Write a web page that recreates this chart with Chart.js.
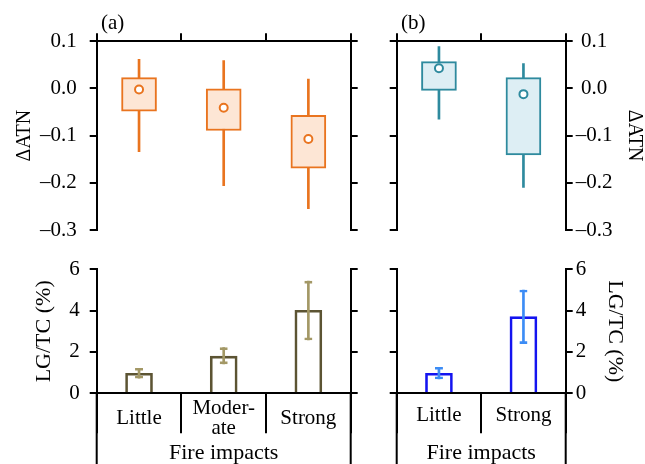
<!DOCTYPE html>
<html>
<head>
<meta charset="utf-8">
<script src="https://cdn.jsdelivr.net/npm/chart.js@4.4.0/dist/chart.umd.min.js"></script>
<style>
  body { margin: 0; background: #fff; }
  #wrap { position: relative; width: 645px; height: 464px; overflow: hidden; }
  #wrap canvas { position: absolute; left: 0; top: 0; }
  .tag { position: absolute; font: 21px 'Liberation Serif', 'Times New Roman', serif; line-height: 20px; }
</style>
</head>
<body>
<div id="wrap">
  <canvas id="atnA" width="645" height="464"></canvas>
  <canvas id="atnB" width="645" height="464"></canvas>
  <canvas id="lgA" width="645" height="464"></canvas>
  <canvas id="lgB" width="645" height="464"></canvas>
  <div class="tag" style="left:101px;top:12px">(a)</div>
  <div class="tag" style="left:401px;top:12px">(b)</div>
</div>
<script>
// categories
const catsA = ['Little', ['Moder-', 'ate'], 'Strong'];
const catsB = ['Little', 'Strong'];

// ΔATN box plots (whisker min, q1, q3, whisker max, mean)
const atnMinA = [-0.134, -0.206, -0.255];
const atnQ1A = [-0.048, -0.089, -0.169];
const atnQ3A = [0.023, -0.001, -0.057];
const atnMaxA = [0.062, 0.059, 0.020];
const atnMeanA = [-0.002, -0.041, -0.107];

const atnMinB = [-0.065, -0.210];
const atnQ1B = [-0.004, -0.141];
const atnQ3B = [0.057, 0.023];
const atnMaxB = [0.089, 0.053];
const atnMeanB = [0.043, -0.012];

// LG/TC (%) bars with error ranges
const lgA = [0.97, 1.80, 4.02];
const lgLoA = [0.73, 1.42, 2.58];
const lgHiA = [1.21, 2.21, 5.43];
const lgB = [0.97, 3.71];
const lgLoB = [0.69, 2.40];
const lgHiB = [1.26, 5.00];

// tick labels
const atnTicks = [0.1, 0, -0.1, -0.2, -0.3];
const lgTicks = [0, 2, 4, 6];

const FONT = "'Liberation Serif', 'Times New Roman', serif";
Chart.defaults.font.family = FONT;
Chart.defaults.font.size = 21;
Chart.defaults.color = '#000';
Chart.defaults.animation = false;
Chart.defaults.plugins.legend.display = false;
Chart.defaults.plugins.tooltip.enabled = false;

const serif = (size, lh) => ({ family: FONT, size: size, lineHeight: lh || 1.2 });
const fmtAtn = v => v === 0 ? '0.0' : (v < 0 ? '\u2013' + Math.abs(v).toFixed(1) : v.toFixed(1));
const fmtLg = v => String(v);

// vertical axis with outward tick marks
function yAxis(pos, ticksArr, fmt, min, max, o) {
  return {
    position: pos, min: min, max: max,
    afterBuildTicks: s => { s.ticks = ticksArr.map(v => ({ value: v })); },
    afterFit: s => { s.width = o.width; },
    ticks: {
      display: !!o.title, callback: fmt, padding: o.labPad || 0,
      crossAlign: pos === 'right' ? 'center' : 'near', font: serif(21)
    },
    grid: { drawOnChartArea: false, tickLength: 7, color: '#000', lineWidth: 2, offset: false },
    border: { color: '#000', width: 2 },
    title: {
      display: !!o.title, text: o.title || '',
      font: serif(o.titleSize || 20, 1),
      padding: { top: o.titlePad || 0, bottom: 0 }
    }
  };
}

// extends the side frame lines below the bar panels
const sideLines = {
  id: 'sideLines',
  afterDraw(chart) {
    const { ctx, chartArea } = chart;
    ctx.save();
    ctx.strokeStyle = '#000';
    ctx.lineWidth = 2;
    ctx.beginPath();
    [chartArea.left, chartArea.right].forEach(x => {
      ctx.moveTo(x, chartArea.bottom);
      ctx.lineTo(x, chart.height);
    });
    ctx.stroke();
    ctx.restore();
  }
};

function atnChart(id, cats, mins, q1s, q3s, maxs, means, line, fill, left) {
  const boxes = cats.map((c, i) => [q1s[i], q3s[i]]);
  const whisk = cats.map((c, i) => [mins[i], maxs[i]]);
  new Chart(document.getElementById(id), {
    type: 'bar',
    data: {
      labels: cats,
      datasets: [
        { type: 'line', data: means, showLine: false, pointRadius: 4, pointBorderWidth: 2,
          pointBorderColor: line, pointBackgroundColor: '#fff', order: 0 },
        { data: boxes, barThickness: 35, backgroundColor: fill, borderColor: line,
          borderWidth: 2, borderSkipped: false, grouped: false, order: 1 },
        { data: whisk, barThickness: 2, backgroundColor: line, grouped: false, order: 2 }
      ]
    },
    options: {
      responsive: false,
      layout: { autoPadding: false, padding: left
        ? { left: 0, top: 0, right: 284.3, bottom: 234 }
        : { left: 386.7, top: 0, right: 0, bottom: 234 } },
      scales: {
        x: {
          position: 'top',
          afterFit: s => { s.height = 41.3; },
          ticks: { display: false },
          grid: { drawOnChartArea: false, tickLength: 8, color: '#000', lineWidth: 2, offset: true },
          border: { color: '#000', width: 2 }
        },
        y: yAxis('left', atnTicks, fmtAtn, -0.3, 0.1, left
          ? { width: 96.7, title: '\u0394ATN', labPad: 13, titlePad: 15 }
          : { width: 10 }),
        y2: yAxis('right', atnTicks, fmtAtn, -0.3, 0.1, left
          ? { width: 10 }
          : { width: 79.3, title: '\u0394ATN', labPad: 3, titlePad: 1 })
      }
    }
  });
}

function lgChart(id, cats, vals, los, his, line, err, left, labPadX) {
  const errs = cats.map((c, i) => [los[i], his[i]]);
  new Chart(document.getElementById(id), {
    type: 'bar',
    data: {
      labels: cats,
      datasets: [
        { data: errs, barThickness: 8, backgroundColor: 'rgba(0,0,0,0)', borderColor: err,
          borderWidth: { top: 2, bottom: 2, left: 0, right: 0 }, borderSkipped: false,
          grouped: false, order: 0 },
        { data: errs, barThickness: 2, backgroundColor: err, grouped: false, order: 1 },
        { data: vals, barThickness: 27, backgroundColor: 'rgba(0,0,0,0)', borderColor: line,
          borderWidth: 2, borderSkipped: 'start', grouped: false, order: 2 }
      ]
    },
    options: {
      responsive: false,
      layout: { autoPadding: false, padding: left
        ? { left: 0, top: 269.3, right: 284.3, bottom: 0 }
        : { left: 386.7, top: 269.3, right: 0, bottom: 0 } },
      scales: {
        x: {
          position: 'bottom',
          afterFit: s => { s.height = 70.7; },
          ticks: { padding: labPadX, crossAlign: 'center', maxRotation: 0, autoSkip: false,
            font: serif(21, 0.95) },
          grid: { drawOnChartArea: false, tickLength: 40, color: '#000', lineWidth: 2, offset: true },
          border: { color: '#000', width: 2 },
          title: { display: true, text: 'Fire impacts', font: serif(22, 1),
            padding: { top: 0, bottom: 0 } }
        },
        y: yAxis('left', lgTicks, fmtLg, 0, 6, left
          ? { width: 96.7, title: 'LG/TC (%)', titleSize: 22, labPad: 10, titlePad: 33 }
          : { width: 10 }),
        y2: yAxis('right', lgTicks, fmtLg, 0, 6, left
          ? { width: 10 }
          : { width: 79.3, title: 'LG/TC (%)', titleSize: 22, labPad: 3, titlePad: 19 })
      }
    },
    plugins: [sideLines]
  });
}

atnChart('atnA', catsA, atnMinA, atnQ1A, atnQ3A, atnMaxA, atnMeanA, '#E9741F', '#FDE6D5', true);
atnChart('atnB', catsB, atnMinB, atnQ1B, atnQ3B, atnMaxB, atnMeanB, '#2E8A9E', '#DDEEF4', false);
lgChart('lgA', catsA, lgA, lgLoA, lgHiA, '#5C5433', '#A39866', true, -25);
lgChart('lgB', catsB, lgB, lgLoB, lgHiB, '#1414F0', '#3C8CF5', false, -18);
</script>
</body>
</html>
